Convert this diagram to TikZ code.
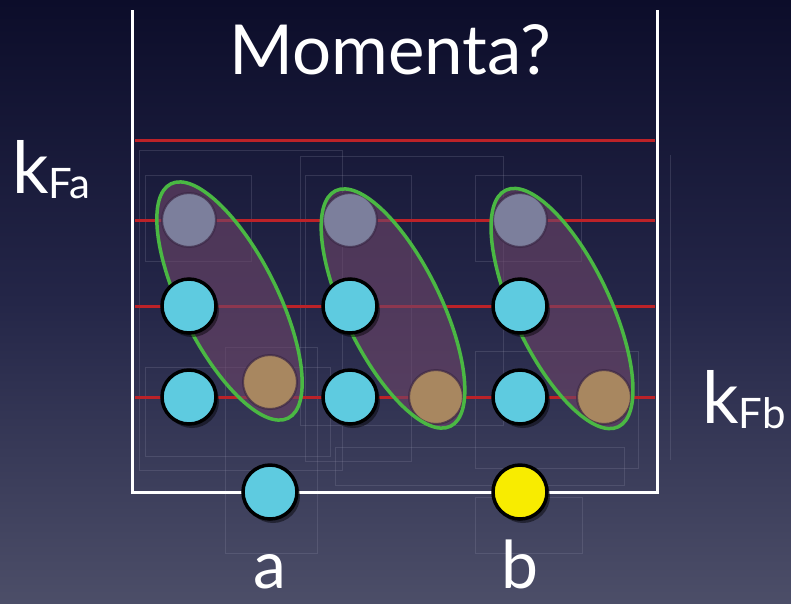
\documentclass[tikz,border=0pt]{standalone}
\usepackage{fontspec}
\setmainfont{Lato}
\usetikzlibrary{shapes.geometric,shadows}
\definecolor{bgtop}{RGB}{12,13,42}
\definecolor{bgmid}{RGB}{36,38,72}
\definecolor{bgbot}{RGB}{76,78,104}
\definecolor{redline}{RGB}{188,34,40}
\definecolor{cyanc}{RGB}{94,203,224}
\definecolor{greyc}{RGB}{124,127,156}
\definecolor{brownc}{RGB}{168,135,96}
\definecolor{yellowc}{RGB}{248,236,0}
\definecolor{pairfill}{RGB}{110,70,105}
\definecolor{pairline}{RGB}{74,184,67}
\definecolor{ringc}{RGB}{58,38,68}
\definecolor{ghost}{RGB}{150,150,175}
\tikzset{
  level/.style={draw=redline, line width=3},
  wall/.style={draw=white, line width=3},
  ball/.style={circle, draw=black, line width=3.5, minimum size=54, inner sep=0,
    drop shadow={shadow xshift=3pt, shadow yshift=-4pt, opacity=0.45, fill=black}},
  cyanball/.style={ball, fill=cyanc},
  dimball/.style={circle, draw=ringc, draw opacity=0.7, line width=2, minimum size=54, inner sep=0},
  pairshape/.style={ellipse, minimum width=262, minimum height=96, inner sep=0},
  label/.style={text=white, inner sep=0},
  ghostbox/.style={draw=ghost, draw opacity=0.22, line width=0.6},
}
\begin{document}
\begin{tikzpicture}[x=1pt,y=-1pt]
\useasboundingbox (0,0) rectangle (791,603);
\shade[top color=bgtop, bottom color=bgbot, middle color=bgmid] (0,0) rectangle (791,603);
% faint ghost boxes
\draw[ghostbox] (139,150) rectangle (342,470);
\draw[ghostbox] (145,175) rectangle (251,261);
\draw[ghostbox] (145,367) rectangle (330,456);
\draw[ghostbox] (225,347) rectangle (317,553);
\draw[ghostbox] (300,156) rectangle (503,425);
\draw[ghostbox] (305,175) rectangle (411,461);
\draw[ghostbox] (335,447) rectangle (624,485);
\draw[ghostbox] (475,175) rectangle (581,261);
\draw[ghostbox] (475,351) rectangle (638,468);
\draw[ghostbox] (475,497) rectangle (582,553);
\draw[ghostbox] (670,155) -- (670,460);
% title
\node[label, anchor=base, font=\fontsize{69}{69}\selectfont] (title) at (390,74) {Momenta?};
% levels
\coordinate (l1a) at (135,140); \coordinate (l1b) at (655,140);
\coordinate (l2a) at (135,220); \coordinate (l2b) at (655,220);
\coordinate (l3a) at (135,306); \coordinate (l3b) at (655,306);
\coordinate (l4a) at (135,397); \coordinate (l4b) at (655,397);
\draw[level] (l1a) -- (l1b);
\draw[level] (l2a) -- (l2b);
\draw[level] (l3a) -- (l3b);
\draw[level] (l4a) -- (l4b);
% walls
\coordinate (wtl) at (132,10); \coordinate (wbl) at (132,492);
\coordinate (wtr) at (657,10); \coordinate (wbr) at (657,492);
\draw[wall] (wtl) -- (wbl) -- (wbr) -- (wtr);
% pair fills
\fill[pairfill, fill opacity=0.6] (229.5,301) ellipse [x radius=131, y radius=48, rotate=-63.4];
\fill[pairfill, fill opacity=0.6] (393,308.5) ellipse [x radius=131, y radius=48, rotate=-64];
\fill[pairfill, fill opacity=0.6] (562,308.5) ellipse [x radius=131, y radius=48, rotate=-64.6];
% dim balls
\node[dimball, fill=greyc] (g1) at (189,220) {};
\node[dimball, fill=greyc] (g2) at (350,220) {};
\node[dimball, fill=greyc] (g3) at (520,220) {};
\node[dimball, fill=brownc] (b1) at (270,382) {};
\node[dimball, fill=brownc] (b2) at (436,397) {};
\node[dimball, fill=brownc] (b3) at (604,397) {};
% pair outlines
\node[pairshape, draw=pairline, line width=3.5, rotate=-63.4] (p1) at (229.5,301) {};
\node[pairshape, draw=pairline, line width=3.5, rotate=-64] (p2) at (393,308.5) {};
\node[pairshape, draw=pairline, line width=3.5, rotate=-64.6] (p3) at (562,308.5) {};
% cyan balls
\node[cyanball] (c1) at (189,306) {};
\node[cyanball] (c2) at (350,306) {};
\node[cyanball] (c3) at (520,306) {};
\node[cyanball] (c4) at (189,397) {};
\node[cyanball] (c5) at (350,397) {};
\node[cyanball] (c6) at (520,397) {};
% bottom balls
\node[cyanball] (ca) at (270,492) {};
\node[ball, fill=yellowc] (yb) at (520,492) {};
% labels
\node[label, anchor=base west, font=\fontsize{72}{72}\selectfont] (kfa) at (12,193)
  {k\raisebox{-5pt}{\fontsize{42}{42}\selectfont Fa}};
\node[label, anchor=base west, font=\fontsize{72}{72}\selectfont] (kfb) at (702,423)
  {k\raisebox{-5pt}{\fontsize{42}{42}\selectfont Fb}};
\node[label, anchor=base, font=\fontsize{66}{66}\selectfont] (la) at (270,588) {a};
\node[label, anchor=base, font=\fontsize{66}{66}\selectfont] (lb) at (520,588) {b};
\end{tikzpicture}
\end{document}
